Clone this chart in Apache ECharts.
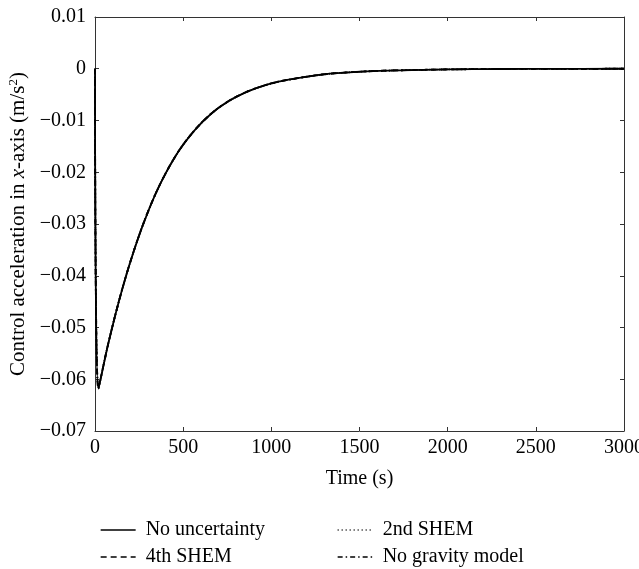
<!DOCTYPE html>
<html>
<head>
<meta charset="utf-8">
<script src="https://cdn.jsdelivr.net/npm/echarts@6.0.0/dist/echarts.min.js"></script>
<style>
  html, body { margin: 0; padding: 0; background: #fff; }
  #chart { width: 639px; height: 569px; }
</style>
</head>
<body>
<div id="chart"></div>
<script>
// time (s) and control acceleration (m/s^2)
const timeS = [0, 19, 76, 151, 227, 302, 378, 473, 567, 662, 756, 851, 945, 1040, 1134, 1250, 1352, 1541, 1730, 2000, 2300, 2600, 3000];
const accelNoUncertainty = [0, -0.0618, -0.0530, -0.0430, -0.0345, -0.0275, -0.0217, -0.0160, -0.0118, -0.0086, -0.0063, -0.0046, -0.0034, -0.0025, -0.0019, -0.0013, -0.0009, -0.0005, -0.0003, -0.00013, -0.00005, -0.00002, 0];
// the other three curves lie on top of it in the figure
const accel2ndShem = accelNoUncertainty.slice();
const accel4thShem = accelNoUncertainty.slice();
const accelNoGravity = accelNoUncertainty.slice();

const xTicks = [0, 500, 1000, 1500, 2000, 2500, 3000];
const yTicks = [0.01, 0, -0.01, -0.02, -0.03, -0.04, -0.05, -0.06, -0.07];

const seriesNames = ["No uncertainty", "2nd SHEM", "4th SHEM", "No gravity model"];

const FONT = "Liberation Serif";
const FS = 20;

function pairs(ys) {
  return timeS.map((t, i) => [t, ys[i]]);
}

function fmtY(v) {
  if (Math.abs(v) < 1e-9) return "0";
  return (v < 0 ? "\u2212" : "") + Math.abs(v).toFixed(2);
}

let chart = echarts.init(document.getElementById("chart"));

const axisLine = { show: true, onZero: false, lineStyle: { color: "#333", width: 1 } };
const axisTick = { show: true, inside: true, length: 4, lineStyle: { color: "#333" } };

function lineSeries(name, ys, type, z) {
  return {
    name: name,
    type: "line",
    data: pairs(ys),
    showSymbol: false,
    symbol: "none",
    smooth: 0.35,
    z: z,
    itemStyle: { color: "#000" },
    lineStyle: { color: "#000", width: 1.8, type: type }
  };
}

// one legend per entry so the 2x2 layout sits where it does in the figure
function legendAt(name, left, top) {
  return {
    left: left,
    top: top,
    itemWidth: 35,
    itemHeight: 12,
    data: [name],
    itemStyle: { opacity: 0 },
    lineStyle: { color: "#000", width: 1.3 },
    textStyle: { fontFamily: FONT, fontSize: FS, color: "#000", lineHeight: 20, padding: [0, 0, 0, 5] }
  };
}

let option = {
  animation: false,
  backgroundColor: "#fff",
  grid: { left: 95, right: 15, top: 17, bottom: 138, outerBoundsMode: "none", containLabel: false },
  xAxis: [
    {
      type: "value",
      min: xTicks[0],
      max: xTicks[xTicks.length - 1],
      interval: 500,
      name: "Time (s)",
      nameLocation: "middle",
      nameGap: 38,
      nameTextStyle: { fontFamily: FONT, fontSize: FS, color: "#000" },
      axisLine: axisLine,
      axisTick: axisTick,
      splitLine: { show: false },
      axisLabel: { fontFamily: FONT, fontSize: FS, color: "#000", margin: 7, formatter: v => String(v) }
    },
    {
      type: "value",
      position: "top",
      min: xTicks[0],
      max: xTicks[xTicks.length - 1],
      interval: 500,
      axisLine: axisLine,
      axisTick: axisTick,
      splitLine: { show: false },
      axisLabel: { show: false }
    }
  ],
  yAxis: [
    {
      type: "value",
      min: yTicks[yTicks.length - 1],
      max: yTicks[0],
      interval: 0.01,
      name: "{a|Control acceleration in }{i|x}{a|-axis (m/s}{s|2}{a|)}",
      nameLocation: "middle",
      nameRotate: 90,
      nameGap: 63,
      nameTextStyle: {
        rich: {
          a: { fontFamily: FONT, fontSize: 21, color: "#000", lineHeight: 22 },
          i: { fontFamily: FONT, fontSize: 21, color: "#000", fontStyle: "italic", lineHeight: 22 },
          s: { fontFamily: FONT, fontSize: 13, color: "#000", verticalAlign: "top", lineHeight: 22 }
        }
      },
      axisLine: axisLine,
      axisTick: axisTick,
      splitLine: { show: false },
      axisLabel: { fontFamily: FONT, fontSize: FS, color: "#000", margin: 9, formatter: fmtY }
    },
    {
      type: "value",
      position: "right",
      min: yTicks[yTicks.length - 1],
      max: yTicks[0],
      interval: 0.01,
      axisLine: axisLine,
      axisTick: axisTick,
      splitLine: { show: false },
      axisLabel: { show: false }
    }
  ],
  legend: [
    legendAt(seriesNames[0], 95, 515),
    legendAt(seriesNames[2], 95, 542),
    legendAt(seriesNames[1], 332, 515),
    legendAt(seriesNames[3], 332, 542)
  ],
  series: [
    lineSeries(seriesNames[3], accelNoGravity, [5, 3, 1.5, 3], 2),
    lineSeries(seriesNames[2], accel4thShem, [6, 4], 3),
    lineSeries(seriesNames[1], accel2ndShem, [1, 3], 4),
    lineSeries(seriesNames[0], accelNoUncertainty, "solid", 5)
  ]
};

chart.setOption(option);
</script>
</body>
</html>
